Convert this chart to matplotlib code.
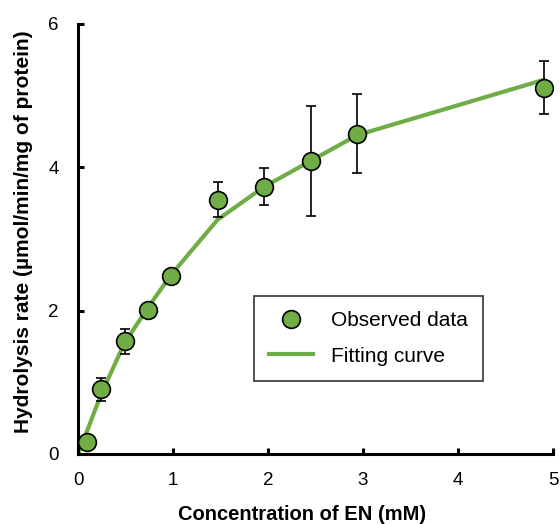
import matplotlib
matplotlib.use("Agg")
import matplotlib.pyplot as plt

plt.rcParams['font.family'] = ['Liberation Sans', 'DejaVu Sans']

# substrate concentration (mM)
conc = [0.098, 0.245, 0.49, 0.735, 0.98, 1.47, 1.96, 2.45, 2.94, 4.9]
rate = [0.17, 0.90, 1.57, 2.01, 2.48, 3.55, 3.73, 4.09, 4.47, 5.11]
rate_err = [0.0, 0.16, 0.17, 0.0, 0.0, 0.245, 0.255, 0.77, 0.55, 0.37]

fit_x = [0, 0.098, 0.245, 0.49, 0.735, 0.98, 1.47, 1.96, 2.45, 2.94, 4.9]
fit_y = [0, 0.33, 0.84, 1.55, 2.04, 2.50, 3.27, 3.73, 4.09, 4.45, 5.22]

green = '#70AD47'

fig = plt.figure(figsize=(5.6, 5.24), dpi=100)
ax = fig.add_axes([0.1393, 0.1336, 0.8482, 0.8206])

ax.plot(fit_x, fit_y, color=green, lw=3, label='Fitting curve', zorder=2)
ax.errorbar(conc, rate, yerr=rate_err, fmt='none', ecolor='black',
            elinewidth=1.2, capsize=3.6, capthick=1.2, zorder=3)
ax.plot(conc, rate, 'o', ms=12.8, mfc=green, mec='black', mew=1.2,
        label='Observed data', zorder=4)

ax.set_xlim(0, 5)
ax.set_ylim(0, 6)
ax.set_xticks([0, 1, 2, 3, 4, 5])
ax.set_yticks([0, 2, 4, 6])
ax.spines['top'].set_visible(False)
ax.spines['right'].set_visible(False)
for s in ['left', 'bottom']:
    ax.spines[s].set_linewidth(2.2)
ax.tick_params(direction='in', length=4.5, width=2.2, labelsize=13.5)
ax.tick_params(axis='x', pad=13)
ax.tick_params(axis='y', pad=14)

ax.set_xlabel('Concentration of EN (mM)', fontsize=14.5, fontweight='bold')
ax.set_ylabel('Hydrolysis rate (µmol/min/mg of protein)', fontsize=15,
              fontweight='bold')
ax.xaxis.set_label_coords(0.472, -0.118)
ax.yaxis.set_label_coords(-0.094, 0.516)

h, l = ax.get_legend_handles_labels()
leg = ax.legend(h[::-1], l[::-1], loc='upper left', bbox_to_anchor=(0.3705, 0.3674),
                borderaxespad=0, fontsize=15, frameon=True, fancybox=False,
                edgecolor='black', borderpad=0.72, labelspacing=0.8,
                handlelength=2.1, handletextpad=0.9)
leg.get_frame().set_linewidth(1.2)

fig.savefig('out.png', dpi=100)
